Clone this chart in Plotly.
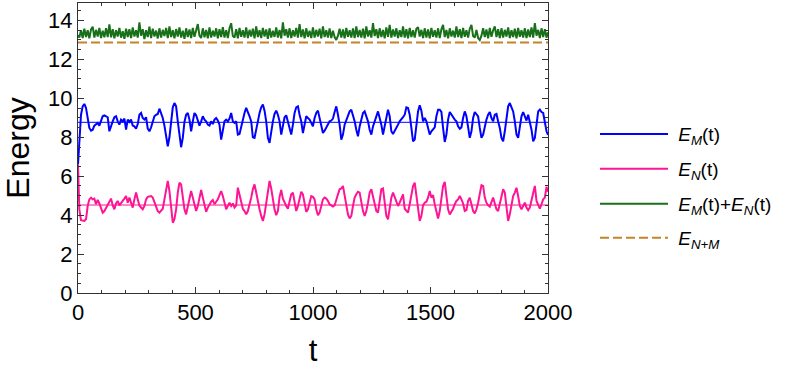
import plotly.graph_objects as go

# ---- data ----
# sampling grid (time): first value at t=0, then regular samples, last value at t=2000
T_FIRST = 5.7
T_STEP = 7.1

E_M = [6.6,
       7.97, 9.16, 9.59, 9.71, 9.51, 9.08, 8.48, 8.34, 8.39, 8.6, 8.68, 8.74, 8.6, 8.82, 9.08, 9.13, 9.08, 9.03,
       8.31, 8.6, 8.82, 9.03, 9.08, 8.82, 8.65, 8.91, 8.82, 8.96, 8.39, 8.91, 8.79, 8.91, 8.6, 8.56, 8.44, 8.68,
       9.16, 9.25, 8.99, 8.91, 9.03, 8.44, 8.31, 8.51, 8.86, 9.08, 9.16, 9.2, 9.47, 9.25, 8.99, 8.6, 8.05, 7.54,
       8.0, 8.82, 9.54, 9.76, 9.59, 8.82, 8.14, 7.49, 7.97, 8.79, 9.16, 9.25, 8.91, 8.31, 8.82, 9.25, 9.13, 8.91,
       8.6, 8.82, 9.08, 8.91, 8.82, 8.65, 8.6, 8.82, 8.68, 8.91, 8.99, 8.86, 8.65, 7.88, 8.34, 8.82, 8.91, 8.82,
       8.96, 9.25, 8.82, 8.74, 8.82,
       8.14, 8.17, 8.56, 8.82, 9.25, 9.51, 9.33, 9.08, 8.82, 8.0, 7.97, 8.48, 8.82, 9.25, 9.54, 9.68, 9.37, 8.82,
       7.97, 7.71, 8.31, 8.82, 9.2, 9.37, 9.16, 8.82, 8.14, 8.65, 9.03, 9.13, 8.82, 8.51, 8.14, 8.65, 9.25, 9.54,
       9.59, 9.16, 8.82, 8.22, 8.65, 9.08, 8.99, 8.91, 8.74, 8.56, 8.99, 9.25, 9.37, 8.99, 8.51, 8.22, 8.34, 8.48,
       8.68, 8.82, 8.86, 8.96, 9.3, 9.59, 9.16, 8.65, 7.88, 8.14, 8.65, 8.91, 9.16, 9.33, 9.42, 9.16, 8.82, 8.39,
       8.05, 8.56, 8.99, 9.25, 9.33, 9.08, 8.82, 8.39, 8.14, 8.56, 8.86, 9.16, 9.33, 8.99, 8.65, 8.14, 8.56, 9.03,
       9.42, 9.08, 8.31, 8.17,
       8.31, 8.48, 8.65, 8.82, 8.91, 9.03, 9.16, 9.54, 9.51, 9.16, 8.48, 7.79, 7.88, 8.48, 9.33, 9.64, 9.37, 8.82,
       8.99, 8.82, 8.51, 8.14, 8.31, 8.39, 8.51, 9.08, 9.42, 9.42, 9.3, 8.48, 7.76, 8.14, 8.91, 9.3, 9.16, 9.08,
       8.91, 8.82, 8.56, 8.44, 8.51, 8.99, 9.33, 9.08, 8.48, 7.97, 8.31, 8.99, 9.3, 9.2, 9.08, 8.48, 7.97, 8.14,
       8.56, 8.91, 9.16, 9.3, 8.99, 8.82, 9.16, 9.2, 8.82, 8.48, 7.97, 7.79, 8.31, 8.91, 9.59, 9.76, 9.51, 9.33,
       8.82, 8.14, 7.97, 8.56, 9.08, 9.3, 9.08, 8.86, 9.16, 8.82, 8.39, 7.79, 7.97, 8.65, 9.33, 9.42, 9.3, 9.25,
       8.65, 8.31,
       8.12]

E_N = [6.6,
       4.30, 3.74, 3.70, 3.70, 3.79, 4.47, 4.81, 4.90, 4.81, 4.85, 4.56, 4.78, 4.6, 4.39, 4.13, 4.21, 4.39, 4.5,
       4.73, 4.85, 4.5, 4.30, 4.6, 4.73, 4.5, 4.64, 4.73, 4.85, 4.98, 4.64, 4.90, 4.6, 4.39, 4.81, 5.16, 4.81,
       4.5, 4.39, 4.30, 4.47, 4.81, 4.94, 4.98, 4.98, 4.90, 4.64, 4.44, 4.21, 4.13, 4.26, 4.33, 4.81, 5.41, 5.76,
       5.24, 4.30, 3.61, 3.79, 4.30, 5.16, 5.67, 5.58, 4.90, 4.30, 4.04, 4.47, 4.98, 5.24, 4.90, 4.47, 4.21, 4.47,
       4.98, 5.29, 4.90, 4.47, 4.17, 4.39, 4.56, 4.69, 4.78, 4.56, 4.69, 4.81, 5.03, 5.24, 4.98, 4.64, 4.30, 4.47,
       4.64, 4.47, 4.6, 4.39, 4.5,
       5.41, 5.03, 4.56, 4.33, 4.21, 4.04, 4.21, 4.5, 4.90, 5.33, 5.58, 5.16, 4.64, 4.30, 3.96, 3.70, 4.04, 4.64,
       5.33, 5.76, 5.37, 4.81, 4.30, 4.0, 4.21, 4.94, 5.29, 4.85, 4.6, 4.47, 4.33, 4.73, 5.07, 5.16, 4.56, 4.21,
       4.47, 4.81, 5.2, 5.07, 4.64, 4.17, 4.30, 4.6, 4.98, 4.94, 4.81, 4.30, 4.0, 4.13, 4.5, 4.81, 4.90, 4.85,
       4.73, 4.56, 4.5, 4.44, 4.5, 4.73, 5.07, 5.33, 5.37, 5.50, 4.98, 4.39, 4.04, 3.83, 3.96, 4.47, 4.90, 5.07,
       5.2, 5.16, 4.69, 4.21, 3.96, 4.21, 4.64, 5.16, 5.33, 4.98, 4.56, 4.21, 4.13, 4.64, 5.33, 5.37, 4.73, 3.96,
       3.79, 4.30, 4.90, 5.16,
       4.90, 4.64, 4.47, 4.64, 4.90, 5.07, 4.33, 4.21, 4.13, 4.56, 5.16, 5.50, 5.67, 5.07, 4.30, 3.70, 3.96, 4.5,
       4.64, 4.69, 4.90, 5.24, 4.90, 5.03, 4.56, 4.13, 3.83, 4.21, 4.81, 5.50, 5.71, 4.90, 4.30, 4.04, 4.17, 4.33,
       4.56, 4.73, 4.81, 4.98, 4.81, 4.6, 4.21, 4.26, 4.73, 4.90, 4.56, 4.21, 4.09, 4.30, 4.64, 5.16, 5.54, 5.50,
       4.90, 4.64, 4.5, 4.44, 4.73, 4.90, 4.6, 4.30, 4.21, 4.64, 5.07, 5.33, 5.16, 4.30, 3.70, 4.04, 4.64, 4.98,
       5.16, 5.41, 4.98, 4.47, 4.30, 4.47, 4.64, 4.39, 4.26, 4.39, 4.81, 5.2, 5.50, 4.73, 4.5, 4.33, 4.56, 4.81,
       4.90, 5.46,
       5.2]

# E_M(t)+E_N(t) as drawn (green, read on the same time grid)
E_SUM = [13.25, 13.12, 13.5, 13.1, 13.58, 13.15, 13.5, 13.08, 13.55, 13.68,
         13.12, 13.52, 13.18, 13.62, 13.1, 13.48, 13.14, 13.6, 13.15, 13.8,
         13.14, 13.55, 13.08, 13.5, 13.18, 13.62, 13.12, 13.45, 13.06, 13.58,
         13.15, 13.55, 13.1, 13.64, 13.18, 13.5, 13.12, 13.9, 13.22, 13.55,
         13.05, 13.5, 13.15, 13.68, 13.1, 13.58, 13.18, 13.48, 13.08, 13.6,
         13.12, 13.52, 13.2, 13.62, 13.1, 13.7, 13.15, 13.5, 13.08, 13.56,
         13.18, 13.64, 13.12, 13.48, 13.06, 13.6, 13.15, 13.54, 13.1, 13.62,
         13.16, 13.5, 13.82, 13.22, 13.1, 13.6, 13.14, 13.52, 13.08, 13.65,
         13.12, 13.48, 13.18, 13.6, 13.08, 13.55, 13.15, 13.66, 13.12, 13.5,
         13.1, 13.6, 13.86, 13.2, 13.12, 13.55, 13.08, 13.62, 13.16, 13.5,
         13.12, 13.65, 13.1, 13.52, 13.18, 13.58, 13.08, 13.7, 13.15, 13.5,
         13.1, 13.62, 13.18, 13.54, 13.06, 13.6, 13.12, 13.48, 13.16, 13.65,
         13.12, 13.52, 13.08, 13.9, 13.22, 13.55, 13.12, 13.6, 13.1, 13.5,
         13.18, 13.62, 13.12, 13.82, 13.15, 13.54, 13.08, 13.6, 13.16, 13.48,
         13.1, 13.65, 13.12, 13.52, 13.18, 13.58, 13.08, 13.7, 13.15, 13.5,
         13.12, 13.6, 13.1, 13.48, 13.15, 13.0, 13.22, 13.58, 13.12, 13.54,
         13.08, 13.62, 13.16, 13.5, 13.12, 13.6, 13.1, 13.7, 13.15, 13.52,
         13.12, 13.58, 13.08, 13.7, 13.18, 13.5, 13.12, 13.86, 13.2, 13.55,
         13.1, 13.6, 13.15, 13.52, 13.08, 13.65, 13.16, 13.78, 13.12, 13.54,
         13.18, 13.6, 13.1, 13.5, 13.15, 13.7, 13.12, 13.55, 13.08, 13.62,
         13.15, 13.5, 13.12, 13.58, 13.66, 13.18, 13.52, 13.1, 13.6, 13.12,
         13.54, 13.08, 13.62, 13.16, 13.5, 13.12, 13.6, 13.1, 13.55, 13.78,
         13.15, 13.52, 13.08, 13.6, 13.18, 13.48, 13.12, 13.7, 13.15, 13.55,
         13.1, 13.62, 13.16, 13.5, 13.12, 13.58, 13.78, 13.2, 13.12, 13.52,
         13.1, 13.0, 13.22, 13.6, 13.15, 13.54, 13.08, 13.62, 13.16, 13.5,
         13.7, 13.15, 13.55, 13.1, 13.6, 13.12, 13.52, 13.18, 13.65, 13.1,
         13.5, 13.15, 13.58, 13.08, 13.62, 13.16, 13.5, 13.12, 13.6, 13.1,
         13.54, 13.15, 13.65, 13.12, 13.86, 13.22, 13.52, 13.1, 13.6, 13.15,
         13.55, 13.12, 13.4]

E_M_MEAN = 8.77      # long-time average of E_M (thin line)
E_N_MEAN = 4.52      # long-time average of E_N (thin line)
E_NM = 12.87         # E_{N+M} (dashed)

X_TICKS = [0, 500, 1000, 1500, 2000]
Y_TICKS = [0, 2, 4, 6, 8, 10, 12, 14]

NAMES = ["<i>E</i><sub><i>M</i></sub>(t)",
         "<i>E</i><sub><i>N</i></sub>(t)",
         "<i>E</i><sub><i>M</i></sub>(t)+<i>E</i><sub><i>N</i></sub>(t)",
         "<i>E</i><sub><i>N+M</i></sub>"]


def grid(n):
    return [0.0] + [T_FIRST + T_STEP * k for k in range(n - 2)] + [2000.0]


t_M = grid(len(E_M))
t_N = grid(len(E_N))
t_S = grid(len(E_SUM))

BLUE = "#0000ff"
PINK = "#ff1493"
GREEN = "#187018"
ORANGE = "#c8822a"
FONT = "Liberation Sans, Arial"

fig = go.Figure()
fig.add_trace(go.Scatter(x=t_M, y=E_M, mode="lines", line=dict(color=BLUE, width=2),
                         name="\u00a0" + NAMES[0], legend="legend"))
fig.add_trace(go.Scatter(x=t_N, y=E_N, mode="lines", line=dict(color=PINK, width=2),
                         name="\u00a0" + NAMES[1], legend="legend2"))
fig.add_trace(go.Scatter(x=t_S, y=E_SUM, mode="lines", line=dict(color=GREEN, width=2),
                         name="\u00a0" + NAMES[2], legend="legend3"))
fig.add_trace(go.Scatter(x=[0, 2000], y=[E_NM, E_NM], mode="lines",
                         line=dict(color=ORANGE, width=2, dash="9px,4px"),
                         name="\u00a0" + NAMES[3], legend="legend4"))
fig.add_trace(go.Scatter(x=[0, 2000], y=[E_M_MEAN, E_M_MEAN], mode="lines",
                         line=dict(color=BLUE, width=1), showlegend=False, hoverinfo="skip"))
fig.add_trace(go.Scatter(x=[0, 2000], y=[E_N_MEAN, E_N_MEAN], mode="lines",
                         line=dict(color=PINK, width=1), showlegend=False, hoverinfo="skip"))

axis_common = dict(showgrid=False, zeroline=False, showline=True, linecolor="#333333", linewidth=1,
                   mirror="ticks", ticks="inside", ticklen=6, tickcolor="#333333", automargin=False,
                   tickfont=dict(family=FONT, size=22, color="black"))

fig.update_xaxes(range=[0, 2000], tickvals=X_TICKS, ticktext=[str(v) for v in X_TICKS],
                 minor=dict(dtick=100, ticklen=3, ticks="inside", tickcolor="#333333"),
                 title=dict(text="t", font=dict(family=FONT, size=31, color="black"), standoff=14),
                 **axis_common)
fig.update_yaxes(range=[0, 14.9], tickvals=Y_TICKS, ticktext=[str(v) for v in Y_TICKS],
                 minor=dict(dtick=0.5, ticklen=3, ticks="inside", tickcolor="#333333"),
                 title=dict(text="Energy", font=dict(family=FONT, size=32, color="black"), standoff=12),
                 **axis_common)

leg_common = dict(x=1.10, xanchor="left", yanchor="middle",
                  font=dict(family=FONT, size=19, color="black"),
                  itemwidth=68, bgcolor="rgba(0,0,0,0)")

fig.update_layout(
    width=789, height=375,
    margin=dict(l=78, r=241, t=3, b=82),
    paper_bgcolor="white", plot_bgcolor="white",
    showlegend=True,
    legend=dict(y=0.548, **leg_common),
    legend2=dict(y=0.428, **leg_common),
    legend3=dict(y=0.307, **leg_common),
    legend4=dict(y=0.190, **leg_common),
)

fig.write_html("out.html", config={"displayModeBar": False},
               post_script="document.body.style.margin='0px';document.body.style.padding='0px';")
